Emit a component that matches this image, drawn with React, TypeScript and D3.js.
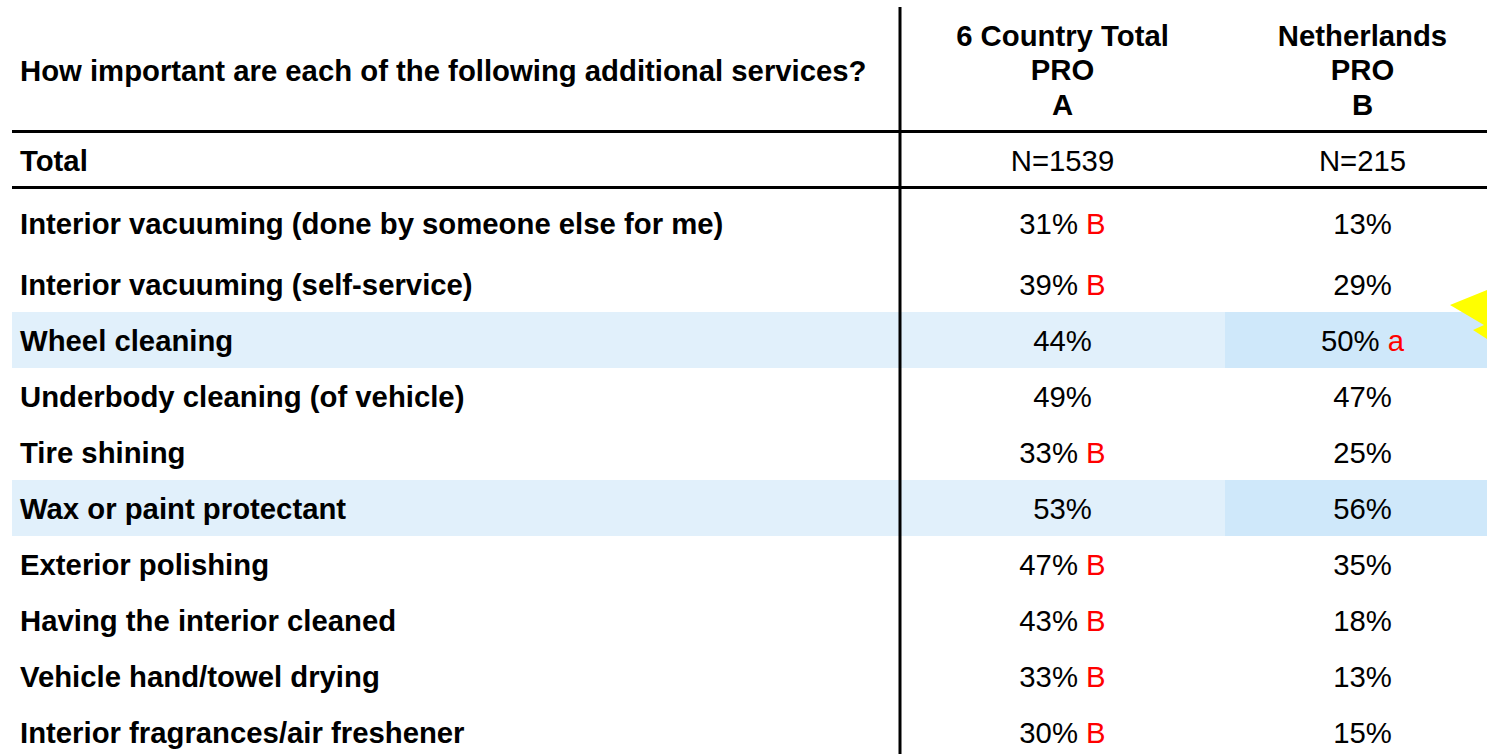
import React from "react";
import * as d3 from "d3";

const question = "How important are each of the following additional services?";
const columnHeaders = [
  ["6 Country Total", "PRO", "A"],
  ["Netherlands", "PRO", "B"],
];
const totalLabel = "Total";
const totalN = ["N=1539", "N=215"];
const services = [
  "Interior vacuuming (done by someone else for me)",
  "Interior vacuuming (self-service)",
  "Wheel cleaning",
  "Underbody cleaning (of vehicle)",
  "Tire shining",
  "Wax or paint protectant",
  "Exterior polishing",
  "Having the interior cleaned",
  "Vehicle hand/towel drying",
  "Interior fragrances/air freshener",
];
const countryTotal = [31, 39, 44, 49, 33, 53, 47, 43, 33, 30];
const netherlands = [13, 29, 50, 47, 25, 56, 35, 18, 13, 15];
const sigA = ["B", "B", "", "", "B", "", "B", "B", "B", "B"];
const sigB = ["", "", "a", "", "", "", "", "", "", ""];
const highlighted = ["Wheel cleaning", "Wax or paint protectant"];

const W = 1487;
const H = 754;
const FONT = "'Liberation Sans', Arial, sans-serif";
const FS = 29.3;

export default function App() {
  const colLeft = d3.scaleOrdinal<string, number>().domain(["A", "B"]).range([900, 1225]);
  const colWidth = d3.scaleOrdinal<string, number>().domain(["A", "B"]).range([325, 275]);
  const colCenter = (k: string) => colLeft(k) + colWidth(k) / 2;
  const rowY = d3
    .scaleBand<string>()
    .domain(services.slice(1))
    .range([256, 256 + 56 * (services.length - 1)]);
  const rowTop = (s: string, i: number) => (i === 0 ? 187.5 : (rowY(s) as number));
  const rowH = (i: number) => (i === 0 ? 256 - 187.5 : rowY.bandwidth());
  const sigColor = "#ff0000";
  const keys = ["A", "B"];

  return (
    <svg
      width={W}
      height={H}
      style={{ position: "absolute", left: 0, top: 0, background: "#fff" }}
      fontFamily={FONT}
    >
      {/* highlighted rows */}
      {services.map((s, i) =>
        highlighted.includes(s) ? (
          <g key={"hl" + s}>
            <rect x={12} y={rowTop(s, i)} width={W - 12} height={rowH(i)} fill="#e1f0fb" />
            <rect
              x={colLeft("B")}
              y={rowTop(s, i)}
              width={W - colLeft("B")}
              height={rowH(i)}
              fill="#cfe8fa"
            />
          </g>
        ) : null
      )}

      {/* header */}
      <text x={20} y={80.5} fontSize={FS} fontWeight="bold" fill="#000">
        {question}
      </text>
      {columnHeaders.map((lines, ci) => (
        <text
          key={"ch" + ci}
          x={colCenter(keys[ci])}
          textAnchor="middle"
          fontSize={FS}
          fontWeight="bold"
          fill="#000"
        >
          {lines.map((l, li) => (
            <tspan key={li} x={colCenter(keys[ci])} y={45.5 + li * 34.5}>
              {l}
            </tspan>
          ))}
        </text>
      ))}

      {/* total row */}
      <text x={20} y={170.5} fontSize={FS} fontWeight="bold" fill="#000">
        {totalLabel}
      </text>
      {totalN.map((n, ci) => (
        <text key={"n" + ci} x={colCenter(keys[ci])} y={170.5} textAnchor="middle" fontSize={FS} fill="#000">
          {n}
        </text>
      ))}

      {/* service rows */}
      {services.map((s, i) => {
        const cy = rowTop(s, i) + rowH(i) / 2 + (i === 0 ? 2 : 0);
        const base = cy + 10.5;
        return (
          <g key={s}>
            <text x={20} y={base} fontSize={FS} fontWeight="bold" fill="#000">
              {s}
            </text>
            <text x={colCenter("A")} y={base} textAnchor="middle" fontSize={FS} fill="#000">
              {countryTotal[i] + "%"}
              {sigA[i] ? <tspan fill={sigColor}>{" " + sigA[i]}</tspan> : null}
            </text>
            <text x={colCenter("B")} y={base} textAnchor="middle" fontSize={FS} fill="#000">
              {netherlands[i] + "%"}
              {sigB[i] ? <tspan fill={sigColor}>{" " + sigB[i]}</tspan> : null}
            </text>
          </g>
        );
      })}

      {/* grid lines */}
      <line x1={12} x2={W} y1={131.5} y2={131.5} stroke="#000" strokeWidth={3} />
      <line x1={12} x2={W} y1={187.5} y2={187.5} stroke="#000" strokeWidth={3} />
      <line x1={900} x2={900} y1={7} y2={H} stroke="#000" strokeWidth={3} />

      {/* yellow arrow marker */}
      <polygon points="1487,290 1450,305 1484,325 1473,330 1487,339" fill="#ffff00" />
    </svg>
  );
}
